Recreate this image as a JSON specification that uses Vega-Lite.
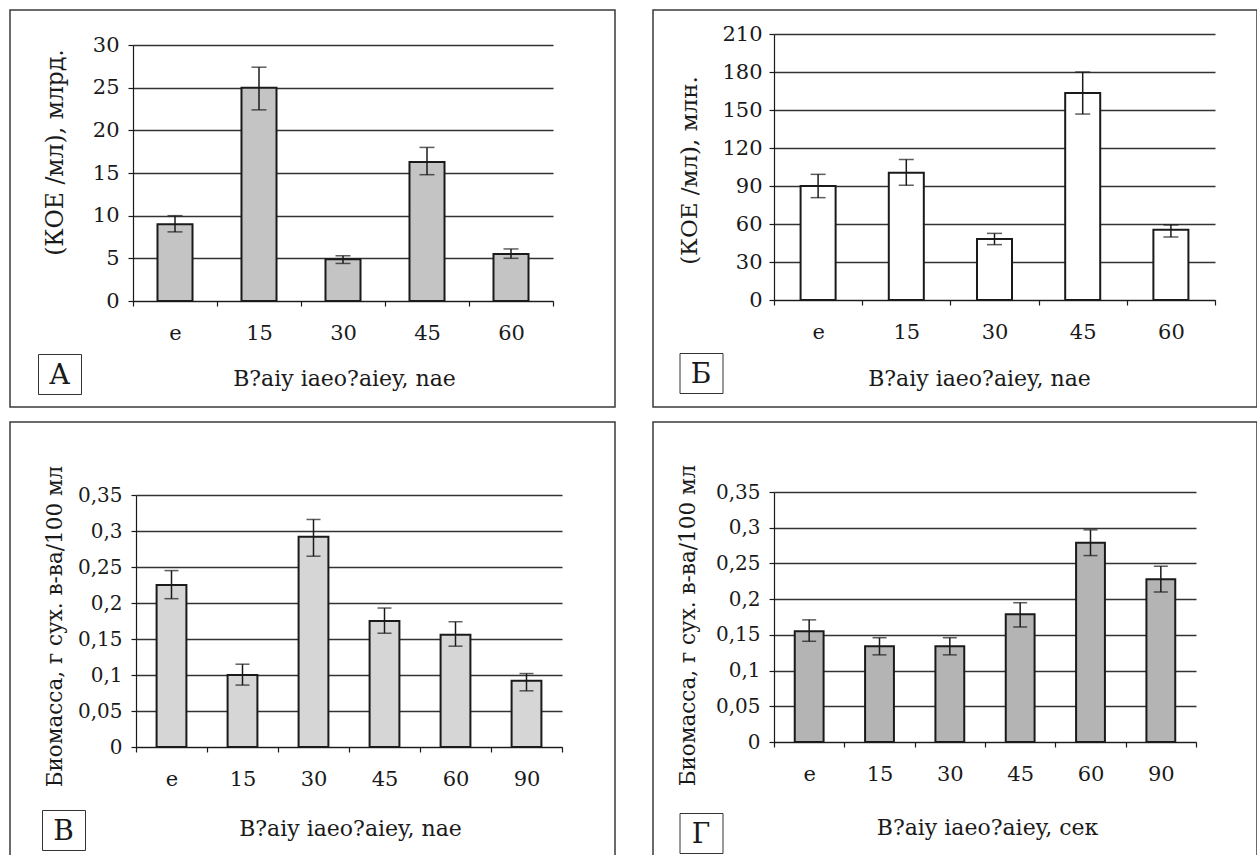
{
  "$schema": "https://vega.github.io/schema/vega-lite/v6.json",
  "background": "white",
  "padding": {"left": 9, "top": 9, "right": 0, "bottom": 0},
  "bounds": "flush",
  "columns": 2,
  "spacing": {"row": 15, "column": 38},
  "config": {
    "font": "DejaVu Serif",
    "view": {"stroke": "#3a3a3a", "strokeWidth": 1.5},
    "axis": {
      "domainColor": "#1a1a1a", "domainWidth": 1.2, "tickColor": "#1a1a1a", "tickWidth": 1.2, "tickSize": 5,
      "labelColor": "#1a1a1a", "labelFontSize": 21, "labelFont": "DejaVu Serif",
      "titleColor": "#1a1a1a", "titleFont": "DejaVu Serif", "titleFontWeight": "normal",
      "gridColor": "#333333", "gridWidth": 1.3, "titleBaseline": "middle", "titleAlign": "center"
    },
    "axisX": {"labelAngle": 0, "labelPadding": 16, "tickBand": "extent", "titleFontSize": 22, "grid": false},
    "axisY": {"labelPadding": 9, "titleFontSize": 23, "titleAngle": 270, "grid": true},
    "legend": {
      "title": null,
      "symbolType": "M-1,-0.8H1V0.8H-1Z", "symbolSize": 1225, "symbolStrokeWidth": 0, "symbolOpacity": 0,
      "labelAlign": "center", "labelOffset": -17.5,
      "labelFont": "DejaVu Serif", "labelFontSize": 28, "labelColor": "#1a1a1a", "labelLimit": 0,
      "strokeColor": "#333333", "fillColor": "white", "padding": 4, "orient": "none"
    }
  },
  "resolve": {"scale": {"x": "independent", "y": "independent", "color": "independent"}, "axis": {"x": "independent", "y": "independent"}, "legend": {"color": "independent"}},
  "datasets": {
    "a": [
      {"t": "e", "v": 9.0, "lo": 8.1, "hi": 10.0, "p": "А"},
      {"t": "15", "v": 25.0, "lo": 22.4, "hi": 27.4, "p": "А"},
      {"t": "30", "v": 4.9, "lo": 4.4, "hi": 5.3, "p": "А"},
      {"t": "45", "v": 16.3, "lo": 14.8, "hi": 18.0, "p": "А"},
      {"t": "60", "v": 5.5, "lo": 5.0, "hi": 6.1, "p": "А"}
    ],
    "b": [
      {"t": "e", "v": 90, "lo": 80.8, "hi": 99.2, "p": "Б"},
      {"t": "15", "v": 100.5, "lo": 90.5, "hi": 111, "p": "Б"},
      {"t": "30", "v": 48.2, "lo": 43.7, "hi": 52.6, "p": "Б"},
      {"t": "45", "v": 163.4, "lo": 146.8, "hi": 180, "p": "Б"},
      {"t": "60", "v": 55.5, "lo": 49.7, "hi": 59.2, "p": "Б"}
    ],
    "c": [
      {"t": "e", "v": 0.225, "lo": 0.206, "hi": 0.245, "p": "В"},
      {"t": "15", "v": 0.1, "lo": 0.086, "hi": 0.115, "p": "В"},
      {"t": "30", "v": 0.292, "lo": 0.265, "hi": 0.316, "p": "В"},
      {"t": "45", "v": 0.175, "lo": 0.158, "hi": 0.193, "p": "В"},
      {"t": "60", "v": 0.156, "lo": 0.14, "hi": 0.174, "p": "В"},
      {"t": "90", "v": 0.092, "lo": 0.078, "hi": 0.102, "p": "В"}
    ],
    "d": [
      {"t": "e", "v": 0.155, "lo": 0.141, "hi": 0.171, "p": "Г"},
      {"t": "15", "v": 0.134, "lo": 0.122, "hi": 0.146, "p": "Г"},
      {"t": "30", "v": 0.134, "lo": 0.122, "hi": 0.146, "p": "Г"},
      {"t": "45", "v": 0.179, "lo": 0.161, "hi": 0.195, "p": "Г"},
      {"t": "60", "v": 0.279, "lo": 0.261, "hi": 0.297, "p": "Г"},
      {"t": "90", "v": 0.228, "lo": 0.21, "hi": 0.246, "p": "Г"}
    ]
  },
  "concat": [
    {
      "width": 605, "height": 397,
      "data": {"name": "a"},
      "encoding": {
        "x": {"field": "t", "type": "nominal", "sort": null,
          "scale": {"range": [123, 543], "paddingInner": 0, "paddingOuter": 0},
          "axis": {"title": "В?aiy iaeo?aiey, nae", "offset": -106, "titleX": 334, "titleY": 77}}
      },
      "layer": [
        {"mark": {"type": "bar", "width": {"band": 0.417}, "stroke": "#1a1a1a", "strokeWidth": 2},
         "encoding": {
           "y": {"field": "v", "type": "quantitative",
             "scale": {"domain": [0, 30], "range": [291, 35], "nice": false},
             "axis": {"title": "(КОЕ /мл),  млрд.", "titleFontSize": 23.5, "values": [0, 5, 10, 15, 20, 25, 30], "offset": -123, "titleX": -78, "titleY": 142}},
           "color": {"field": "p", "type": "nominal", "scale": {"range": ["#c4c4c4"]},
             "legend": {"title": null, "legendX": 28, "legendY": 344}}
         }},
        {"mark": {"type": "rule", "color": "#1a1a1a", "strokeWidth": 1.5},
         "encoding": {"y": {"field": "lo", "type": "quantitative"}, "y2": {"field": "hi"}}},
        {"mark": {"type": "tick", "color": "#1a1a1a", "size": 15, "thickness": 1.5},
         "encoding": {"y": {"field": "lo", "type": "quantitative"}}},
        {"mark": {"type": "tick", "color": "#1a1a1a", "size": 15, "thickness": 1.5},
         "encoding": {"y": {"field": "hi", "type": "quantitative"}}}
      ]
    },
    {
      "width": 604, "height": 397,
      "data": {"name": "b"},
      "encoding": {
        "x": {"field": "t", "type": "nominal", "sort": null,
          "scale": {"range": [121, 562], "paddingInner": 0, "paddingOuter": 0},
          "axis": {"title": "В?aiy iaeo?aiey, nae", "offset": -107, "titleX": 326, "titleY": 78}}
      },
      "layer": [
        {"mark": {"type": "bar", "width": {"band": 0.397}, "stroke": "#1a1a1a", "strokeWidth": 2},
         "encoding": {
           "y": {"field": "v", "type": "quantitative",
             "scale": {"domain": [0, 210], "range": [290, 24], "nice": false},
             "axis": {"title": "(КОЕ /мл), млн.", "values": [0, 30, 60, 90, 120, 150, 180, 210], "offset": -121, "labelPadding": 7, "titleX": -85, "titleY": 160}},
           "color": {"field": "p", "type": "nominal", "scale": {"range": ["#ffffff"]},
             "legend": {"title": null, "legendX": 26.5, "legendY": 343}}
         }},
        {"mark": {"type": "rule", "color": "#1a1a1a", "strokeWidth": 1.5},
         "encoding": {"y": {"field": "lo", "type": "quantitative"}, "y2": {"field": "hi"}}},
        {"mark": {"type": "tick", "color": "#1a1a1a", "size": 15, "thickness": 1.5},
         "encoding": {"y": {"field": "lo", "type": "quantitative"}}},
        {"mark": {"type": "tick", "color": "#1a1a1a", "size": 15, "thickness": 1.5},
         "encoding": {"y": {"field": "hi", "type": "quantitative"}}}
      ]
    },
    {
      "width": 605, "height": 440,
      "data": {"name": "c"},
      "encoding": {
        "x": {"field": "t", "type": "nominal", "sort": null,
          "scale": {"range": [126, 552], "paddingInner": 0, "paddingOuter": 0},
          "axis": {"title": "В?aiy iaeo?aiey, nae", "offset": -115, "titleX": 340, "titleY": 81}}
      },
      "layer": [
        {"mark": {"type": "bar", "width": {"band": 0.42}, "stroke": "#1a1a1a", "strokeWidth": 2},
         "encoding": {
           "y": {"field": "v", "type": "quantitative",
             "scale": {"domain": [0, 0.35], "range": [325, 73], "nice": false},
             "axis": {"title": "Биомасса, г сух. в-ва/100 мл", "titleFontSize": 21.5, "labelFontSize": 20, "values": [0, 0.05, 0.1, 0.15, 0.2, 0.25, 0.3, 0.35], "labelExpr": "replace(toString(datum.value), '.', ',')", "offset": -126, "titleX": -81, "titleY": 204}},
           "color": {"field": "p", "type": "nominal", "scale": {"range": ["#d6d6d6"]},
             "legend": {"title": null, "legendX": 32, "legendY": 388}}
         }},
        {"mark": {"type": "rule", "color": "#1a1a1a", "strokeWidth": 1.5},
         "encoding": {"y": {"field": "lo", "type": "quantitative"}, "y2": {"field": "hi"}}},
        {"mark": {"type": "tick", "color": "#1a1a1a", "size": 14, "thickness": 1.5},
         "encoding": {"y": {"field": "lo", "type": "quantitative"}}},
        {"mark": {"type": "tick", "color": "#1a1a1a", "size": 14, "thickness": 1.5},
         "encoding": {"y": {"field": "hi", "type": "quantitative"}}}
      ]
    },
    {
      "width": 604, "height": 440,
      "data": {"name": "d"},
      "encoding": {
        "x": {"field": "t", "type": "nominal", "sort": null,
          "scale": {"range": [121, 543], "paddingInner": 0, "paddingOuter": 0},
          "axis": {"title": "В?aiy iaeo?aiey, сек", "offset": -120, "titleX": 334, "titleY": 85}}
      },
      "layer": [
        {"mark": {"type": "bar", "width": {"band": 0.41}, "stroke": "#1a1a1a", "strokeWidth": 2},
         "encoding": {
           "y": {"field": "v", "type": "quantitative",
             "scale": {"domain": [0, 0.35], "range": [320, 70], "nice": false},
             "axis": {"title": "Биомасса, г сух. в-ва/100 мл", "titleFontSize": 21.5, "labelFontSize": 20, "values": [0, 0.05, 0.1, 0.15, 0.2, 0.25, 0.3, 0.35], "labelExpr": "replace(toString(datum.value), '.', ',')", "offset": -121, "titleX": -86, "titleY": 203}},
           "color": {"field": "p", "type": "nominal", "scale": {"range": ["#b4b4b4"]},
             "legend": {"title": null, "legendX": 26.5, "legendY": 391}}
         }},
        {"mark": {"type": "rule", "color": "#1a1a1a", "strokeWidth": 1.5},
         "encoding": {"y": {"field": "lo", "type": "quantitative"}, "y2": {"field": "hi"}}},
        {"mark": {"type": "tick", "color": "#1a1a1a", "size": 14, "thickness": 1.5},
         "encoding": {"y": {"field": "lo", "type": "quantitative"}}},
        {"mark": {"type": "tick", "color": "#1a1a1a", "size": 14, "thickness": 1.5},
         "encoding": {"y": {"field": "hi", "type": "quantitative"}}}
      ]
    }
  ]
}
